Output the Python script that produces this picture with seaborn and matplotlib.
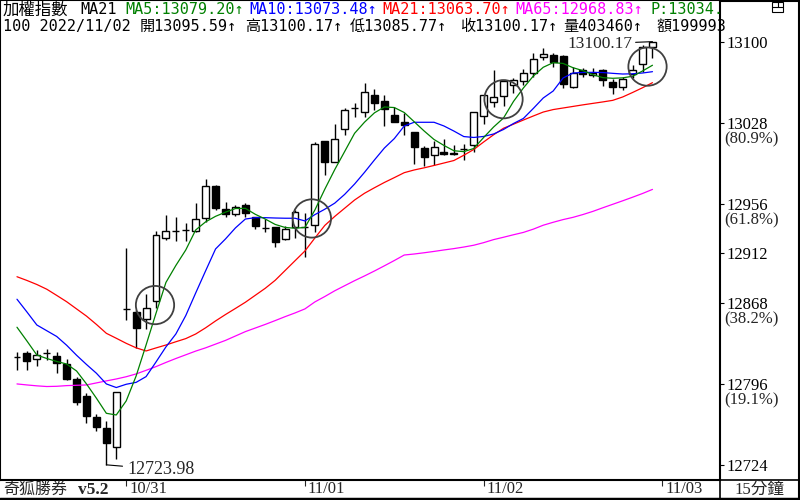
import numpy as np
import pandas as pd
import matplotlib.pyplot as plt
import seaborn as sns
from matplotlib.lines import Line2D
from matplotlib.patches import Rectangle

# 加權指數 15分鐘K線 (10/28 尾盤 ~ 11/02)
opens = [12820.1, 12823.2, 12817.8, 12823.2, 12820.8, 12813.6, 12800.0, 12785.2, 12766.3, 12756.8,
         12739.6, 12862.4, 12859.6, 12853.5, 12869.2, 12925.4, 12932.1, 12932.8, 12932.1, 12943.2,
         12971.9, 12951.2, 12946.7, 12955.0, 12944.0, 12934.8, 12935.2, 12924.8, 12935.2, 12935.0,
         12937.2, 13011.9, 12993.6, 13022.3, 13041.2, 13037.9, 13052.8, 13047.2, 13035.0, 13029.0,
         13019.6, 13005.4, 12999.4, 13002.3, 13001.2, 13004.8, 13008.3, 13034.1, 13046.8, 13052.1,
         13061.6, 13065.5, 13072.6, 13086.8, 13088.3, 13087.4, 13059.6, 13075.0, 13070.5, 13075.0,
         13064.6, 13059.6, 13071.4, 13080.3, 13095.59]
highs = [12824.6, 12825.5, 12826.1, 12826.7, 12824.6, 12817.8, 12802.4, 12787.9, 12769.6, 12763.2,
         12788.5, 12916.5, 12861.2, 12876.0, 12932.1, 12946.1, 12944.0, 12939.2, 12956.5, 12977.8,
         12972.5, 12957.9, 12955.0, 12956.5, 12944.5, 12942.3, 12935.6, 12936.3, 12950.5, 12947.6,
         13011.0, 13012.3, 13027.2, 13041.6, 13045.4, 13063.2, 13057.8, 13052.8, 13041.8, 13036.8,
         13020.0, 13007.2, 13011.6, 13013.4, 13007.9, 13009.6, 13037.5, 13052.8, 13075.0, 13066.1,
         13067.6, 13075.6, 13089.8, 13094.3, 13090.4, 13088.3, 13077.9, 13077.0, 13076.5, 13075.6,
         13066.7, 13068.5, 13079.4, 13097.2, 13100.17]
lows = [12808.3, 12808.3, 12811.9, 12817.2, 12805.4, 12799.4, 12777.2, 12761.5, 12754.4, 12723.98,
        12728.8, 12852.8, 12827.4, 12844.5, 12863.4, 12923.9, 12923.2, 12923.2, 12931.2, 12940.1,
        12950.5, 12944.6, 12945.5, 12944.6, 12933.4, 12931.2, 12917.4, 12923.9, 12925.4, 12908.5,
        12931.3, 12981.2, 12993.2, 13016.9, 13033.5, 13033.5, 13039.4, 13024.9, 13028.6, 13017.6,
        12991.2, 12989.6, 12990.5, 12999.8, 12999.4, 12995.4, 13002.1, 13027.0, 13042.5, 13043.0,
        13054.3, 13061.6, 13069.0, 13083.9, 13077.9, 13058.7, 13058.7, 13069.0, 13069.0, 13060.8,
        13053.6, 13057.2, 13067.6, 13073.5, 13085.77]
closes = [12820.1, 12816.6, 12821.6, 12823.2, 12814.3, 12800.3, 12780.1, 12767.0, 12757.9, 12743.7,
          12788.5, 12862.4, 12845.4, 12863.2, 12928.3, 12931.9, 12932.1, 12932.8, 12942.3, 12971.9,
          12952.0, 12946.7, 12953.5, 12948.1, 12936.3, 12934.8, 12922.4, 12933.4, 12949.0, 12935.0,
          13009.0, 12993.5, 13013.4, 13039.2, 13041.2, 13055.2, 13045.9, 13040.0, 13029.0, 13026.1,
          13006.3, 12997.4, 13006.1, 13000.1, 13000.0, 13004.8, 13037.2, 13052.5, 13050.7, 13065.2,
          13066.1, 13072.6, 13084.5, 13089.2, 13081.8, 13062.5, 13072.0, 13071.4, 13072.6, 13066.1,
          13059.6, 13066.7, 13075.0, 13095.2, 13100.17]

ma5 = [12846.3, 12834.1, 12821.6, 12818.5, 12815.9, 12813.6, 12807.4, 12795.9, 12783.2, 12769.8,
       12768.3, 12780.8, 12803.0, 12830.5, 12858.7, 12886.1, 12901.2, 12915.0, 12932.8, 12940.0,
       12944.9, 12948.6, 12951.8, 12952.0, 12946.7, 12942.5, 12937.7, 12935.0, 12934.3, 12935.0,
       12950.5, 12969.0, 12986.4, 13002.5, 13018.7, 13028.6, 13036.9, 13042.1, 13041.6, 13037.2,
       13029.0, 13020.8, 13013.2, 13007.9, 13003.2, 13002.4, 13005.2, 13015.0, 13024.3, 13032.3,
       13047.0, 13059.0, 13069.6, 13077.4, 13081.5, 13080.8, 13077.0, 13074.4, 13070.8, 13068.2,
       13067.6, 13068.0, 13069.4, 13074.1, 13079.20]
ma10 = [12871.2, 12859.9, 12848.3, 12843.2, 12838.1, 12830.3, 12821.4, 12813.2, 12805.4, 12795.9,
        12792.7, 12795.6, 12797.3, 12802.4, 12815.4, 12828.8, 12840.3, 12856.7, 12876.8, 12896.5,
        12915.9, 12924.8, 12934.6, 12942.5, 12943.7, 12943.7, 12943.4, 12943.2, 12943.2, 12940.8,
        12946.4, 12951.2, 12956.6, 12964.4, 12973.6, 12984.0, 12995.0, 13005.6, 13014.0, 13025.2,
        13028.5, 13028.5, 13028.5, 13025.2, 13020.7, 13015.8, 13015.0, 13015.9, 13018.1, 13022.1,
        13027.4, 13031.9, 13040.8, 13050.1, 13056.3, 13067.9, 13072.3, 13072.8, 13072.9, 13072.7,
        13072.0, 13071.4, 13071.6, 13072.3, 13073.48]
ma21 = [12891.2, 12887.9, 12884.3, 12880.1, 12874.6, 12869.0, 12862.6, 12856.2, 12848.8, 12840.9,
        12836.5, 12832.0, 12828.0, 12825.2, 12827.9, 12830.5, 12833.4, 12836.2, 12840.3, 12845.8,
        12851.9, 12857.6, 12863.0, 12868.5, 12874.7, 12880.9, 12888.0, 12896.7, 12905.4, 12914.1,
        12925.6, 12936.8, 12944.8, 12952.1, 12959.4, 12965.4, 12970.3, 12975.0, 12979.3, 12983.7,
        12986.1, 12988.0, 12990.1, 12992.3, 12994.5, 12999.2, 13004.3, 13011.0, 13017.4, 13023.2,
        13026.8, 13030.5, 13034.1, 13037.6, 13039.8, 13041.2, 13042.6, 13044.0, 13045.3, 13046.6,
        13048.0, 13051.0, 13055.0, 13059.2, 13063.70]
ma65 = [12795.9, 12795.0, 12794.2, 12793.6, 12793.8, 12794.4, 12794.7, 12795.0, 12796.8, 12798.6,
        12800.3, 12802.3, 12804.8, 12808.0, 12811.3, 12815.0, 12818.5, 12821.8, 12825.1, 12828.0,
        12831.3, 12834.6, 12838.5, 12842.4, 12845.6, 12848.8, 12852.2, 12855.7, 12859.0, 12862.6,
        12868.8, 12873.6, 12878.7, 12883.2, 12887.7, 12891.9, 12896.3, 12900.9, 12905.6, 12910.5,
        12911.4, 12912.5, 12913.7, 12915.0, 12916.2, 12917.6, 12919.2, 12921.5, 12924.2, 12926.3,
        12928.5, 12930.6, 12933.5, 12937.0, 12939.6, 12942.0, 12944.0, 12946.5, 12949.3, 12952.5,
        12955.6, 12958.7, 12961.9, 12965.2, 12968.83]

day_start = [11, 29, 47, 65]
day_labels = ['10/31', '11/01', '11/02', '11/03']
price_ticks = [13100, 13028, 12956, 12912, 12868, 12796, 12724]
fib_ticks = [13028, 12956, 12868, 12796]
fib_labels = ['(80.9%)', '(61.8%)', '(38.2%)', '(19.1%)']
signal_idx = [13.9, 29.7, 49.0, 63.5]
signal_price = [12866, 12943, 13049, 13078]

header1 = ['加權指數', 'MA21', 'MA5:13079.20↑', 'MA10:13073.48↑', 'MA21:13063.70↑', 'MA65:12968.83↑', 'P:13034.']
header2 = ['100 2022/11/02', '開13095.59↑', '高13100.17↑', '低13085.77↑', '收13100.17↑', '量403460↑', '額199993']

GREEN, BLUE, RED, MAGENTA = '#008000', '#0000ff', '#ff0000', '#ff00ff'
CJK = ['Noto Sans CJK TC', 'DejaVu Sans']
MONO = ['DejaVu Sans Mono', 'Noto Sans CJK TC']
SERIF = ['Liberation Serif', 'Noto Sans CJK TC']

sns.set_style('white')
plt.rcParams['font.family'] = CJK

W, H = 800, 500
fig = plt.figure(figsize=(8, 5), dpi=100)
ax = fig.add_axes([0, 20 / H, 720 / W, 480 / H])
ax.set_facecolor('white')

n = len(closes)
idx = np.arange(n)
o = np.array(opens)
c = np.array(closes)
up = c >= o

# K線
ax.vlines(idx, lows, highs, color='black', lw=1, zorder=2)
ax.bar(idx[up], (c - o)[up], bottom=o[up], width=0.7,
       facecolor='white', edgecolor='black', lw=1, zorder=3)
ax.bar(idx[~up], (o - c)[~up], bottom=c[~up], width=0.7,
       facecolor='black', edgecolor='black', lw=1, zorder=3)

# 均線
df = pd.DataFrame({'idx': idx, 'MA5': ma5, 'MA10': ma10, 'MA21': ma21, 'MA65': ma65})
for name, col in [('MA65', MAGENTA), ('MA21', RED), ('MA10', BLUE), ('MA5', GREEN)]:
    sns.lineplot(data=df, x='idx', y=name, color=col, lw=0.9, ax=ax, zorder=4)

# 訊號圈
ax.scatter(signal_idx, signal_price, s=760, facecolors='none',
           edgecolors='#404040', linewidths=1.3, zorder=5)

# 最高 / 最低 標示
i_hi = int(np.argmax(highs))
i_lo = int(np.argmin(lows))
ax.annotate(f'{highs[i_hi]:.2f}', xy=(i_hi, highs[i_hi]), xytext=(-14.5, -1.5),
            textcoords='offset points', ha='right', va='center', fontsize=12.5,
            family=SERIF, arrowprops=dict(arrowstyle='-', color='black', lw=0.8,
                                          shrinkA=0, shrinkB=0))
ax.annotate(f'{lows[i_lo]:.2f}', xy=(i_lo, lows[i_lo]), xytext=(15, -3.3),
            textcoords='offset points', ha='left', va='center', fontsize=13,
            family=SERIF, arrowprops=dict(arrowstyle='-', color='black', lw=0.8,
                                          shrinkA=1, shrinkB=0))

ax.set_xlim(-1.71, 70.8)
ax.set_ylim(12710.5, 13137.2)
ax.set_xlabel('')
ax.set_ylabel('')

# 右側價格刻度
ax.yaxis.tick_right()
ax.set_yticks(price_ticks, [str(v) for v in price_ticks])
ax.tick_params(axis='y', direction='out', length=3, width=0.8, pad=2,
               labelsize=12, colors='black', right=True, left=False)
plt.setp(ax.get_yticklabels(), family=SERIF)
for v, lab in zip(fib_ticks, fib_labels):
    ax.annotate(lab, xy=(1, v), xycoords=('axes fraction', 'data'), xytext=(3, -12),
                textcoords='offset points', ha='left', va='center', fontsize=12,
                family=SERIF, annotation_clip=False)

# 日期刻度
ax.set_xticks(day_start)
ax.tick_params(axis='x', direction='out', length=4, width=0.8, bottom=True,
               labelbottom=False)
for d, lab in zip(day_start, day_labels):
    ax.text(d + 0.3, -0.0185, lab, transform=ax.get_xaxis_transform(),
            ha='left', va='center', fontsize=12, family=SERIF, clip_on=False)

for s in ax.spines.values():
    s.set_color('black')
    s.set_linewidth(1.5)

# 標題列
x1 = [3, 80, 125, 249, 382, 515, 650]
c1 = ['black', 'black', GREEN, BLUE, RED, MAGENTA, GREEN]
for k, (s, x, col) in enumerate(zip(header1, x1, c1)):
    fam, fs = (CJK, 11.8) if k == 0 else (MONO, 10.9)
    fig.text(x / W, 1 - 10 / H, s, color=col, fontsize=fs, ha='left', va='center', family=fam)
x2 = [3, 140, 245, 350, 460, 563, 657]
for s, x in zip(header2, x2):
    fig.text(x / W, 1 - 26 / H, s, color='black', fontsize=10.9, ha='left', va='center', family=MONO)

# 底部狀態列
fig.text(3 / W, 10 / H, '奇狐勝券', fontsize=11.5, ha='left', va='center', family=CJK)
fig.text(78 / W, 10 / H, 'v5.2', fontsize=12.5, ha='left', va='center', family=SERIF, weight='bold')
fig.text(759 / W, 10 / H, '15分鐘', fontsize=12, ha='center', va='center', family=SERIF)

# 外框
for xs, ys, lw in [([720 / W, 1], [20 / H, 20 / H], 1.2),
                   ([720 / W, 720 / W], [0, 20 / H], 1.2),
                   ([1 - 0.6 / W, 1 - 0.6 / W], [0, 1], 1.5),
                   ([0, 1], [1 / H, 1 / H], 2.5),
                   ([720 / W, 1], [1 - 0.6 / H, 1 - 0.6 / H], 1.5)]:
    fig.add_artist(Line2D(xs, ys, color='black', lw=lw, transform=fig.transFigure))

# 右上角小圖示
fig.add_artist(Rectangle((772 / W, 1 - 12 / H), 11 / W, 10 / H, fill=False,
                         lw=0.8, ec='black', transform=fig.transFigure))
fig.add_artist(Line2D([772 / W, 783 / W], [1 - 7 / H, 1 - 7 / H], color='black', lw=0.8,
                      transform=fig.transFigure))
fig.add_artist(Line2D([777.5 / W, 777.5 / W], [1 - 2 / H, 1 - 7 / H], color='black', lw=0.8,
                      transform=fig.transFigure))

fig.savefig('out.png', dpi=100)
